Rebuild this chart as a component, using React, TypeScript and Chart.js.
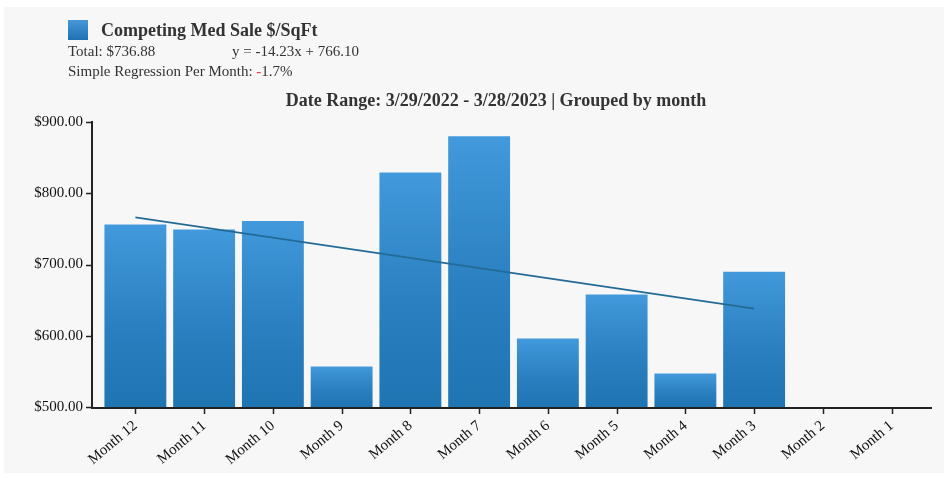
import React, { useEffect, useRef } from "react";
import { Chart, registerables } from "chart.js";

Chart.register(...registerables);

// Categories, oldest month first
const months = [
  "Month 12", "Month 11", "Month 10", "Month 9", "Month 8", "Month 7",
  "Month 6", "Month 5", "Month 4", "Month 3", "Month 2", "Month 1",
];

// Median competing sale price per square foot for each month
const medSalePerSqFt: (number | null)[] = [
  756, 749, 761, 557, 829, 880, 596, 658, 547, 690, null, null,
];

// Stated regression: y = slope * x + intercept (x = month index)
const regressionSlope = -14.23;
const regressionIntercept = 766.1;
const regressionLastIndex = 9;

const yTicks = [500, 600, 700, 800, 900];

const legendLabel = "Competing Med Sale $/SqFt";
const totalLabel = "Total: $736.88";
const equationLabel = "y = -14.23x + 766.10";
const regressionPrefix = "Simple Regression Per Month: ";
const regressionSign = "-";
const regressionPct = "1.7%";
const dateRangeTitle = "Date Range: 3/29/2022 - 3/28/2023 | Grouped by month";

const SERIF = '"Liberation Serif", "Times New Roman", serif';

const trendLine: (number | null)[] = months.map((_, i) =>
  i === 0 || i === regressionLastIndex ? regressionSlope * i + regressionIntercept : null
);

const decorPlugin = {
  id: "decor",
  beforeDraw(chart: any) {
    const ctx = chart.ctx;
    ctx.save();
    ctx.fillStyle = "#ffffff";
    ctx.fillRect(0, 0, chart.width, chart.height);
    ctx.fillStyle = "#f7f7f7";
    ctx.fillRect(4, 7, 940, 466);
    ctx.restore();
  },
  afterDraw(chart: any) {
    const ctx = chart.ctx;
    const { chartArea, scales } = chart;
    const y = scales.y;
    const x = scales.x;
    ctx.save();

    // Axis lines
    const axisX = chartArea.left - 9;
    const axisY = chartArea.bottom + 1;
    ctx.strokeStyle = "#222";
    ctx.lineWidth = 2;
    ctx.beginPath();
    ctx.moveTo(axisX, chartArea.top - 1);
    ctx.lineTo(axisX, axisY + 1);
    ctx.moveTo(axisX - 1, axisY);
    ctx.lineTo(chartArea.right + 6, axisY);
    ctx.stroke();

    // Tick marks
    ctx.lineWidth = 1.5;
    ctx.beginPath();
    yTicks.forEach((v) => {
      const py = Math.round(y.getPixelForValue(v)) + 0.5;
      ctx.moveTo(axisX - 6, py);
      ctx.lineTo(axisX, py);
    });
    months.forEach((_, i) => {
      const px = Math.round(x.getPixelForValue(i)) + 0.5;
      ctx.moveTo(px, axisY);
      ctx.lineTo(px, axisY + 6);
    });
    ctx.stroke();

    // Legend swatch
    const sw = ctx.createLinearGradient(0, 20, 0, 40);
    sw.addColorStop(0, "#4597d8");
    sw.addColorStop(1, "#1f72b2");
    ctx.fillStyle = sw;
    ctx.fillRect(68, 20, 20, 20);

    ctx.textBaseline = "middle";
    ctx.textAlign = "left";
    ctx.fillStyle = "#333";
    ctx.font = `bold 18px ${SERIF}`;
    ctx.fillText(legendLabel, 101, 31);

    ctx.font = `15px ${SERIF}`;
    ctx.fillText(totalLabel, 68, 52);
    ctx.fillText(equationLabel, 232, 52);
    ctx.fillText(regressionPrefix, 68, 72);
    const w1 = ctx.measureText(regressionPrefix).width;
    ctx.fillStyle = "#e8425a";
    ctx.font = `bold 15px ${SERIF}`;
    ctx.fillText(regressionSign, 68 + w1, 72);
    const w2 = ctx.measureText(regressionSign).width;
    ctx.fillStyle = "#333";
    ctx.font = `15px ${SERIF}`;
    ctx.fillText(regressionPct, 68 + w1 + w2, 72);

    // Chart title
    ctx.font = `bold 18px ${SERIF}`;
    ctx.textAlign = "center";
    ctx.fillText(dateRangeTitle, 496, 101);

    ctx.restore();
  },
};

function barGradient(context: any) {
  const chart = context.chart;
  const { chartArea, scales } = chart;
  if (!chartArea || context.type !== "data" || context.raw == null) return "#1f77b4";
  const top = scales.y.getPixelForValue(context.raw);
  const bottom = scales.y.getPixelForValue(scales.y.min);
  const g = chart.ctx.createLinearGradient(0, top, 0, bottom);
  g.addColorStop(0, "#4299db");
  g.addColorStop(0.55, "#2a80c0");
  g.addColorStop(1, "#1f74b2");
  return g;
}

export default function App() {
  const canvasRef = useRef<HTMLCanvasElement | null>(null);

  useEffect(() => {
    if (!canvasRef.current) return;
    const chart = new Chart(canvasRef.current, {
      type: "bar",
      data: {
        labels: months,
        datasets: [
          {
            type: "line",
            label: "Regression",
            data: trendLine,
            borderColor: "#236b96",
            borderWidth: 1.6,
            pointRadius: 0,
            spanGaps: true,
            fill: false,
            order: 0,
          } as any,
          {
            type: "bar",
            label: legendLabel,
            data: medSalePerSqFt,
            backgroundColor: barGradient,
            borderWidth: 0,
            barPercentage: 0.9,
            categoryPercentage: 1,
            order: 1,
          },
        ],
      },
      options: {
        responsive: false,
        animation: false,
        events: [],
        layout: { padding: { left: 0, right: 22, top: 122, bottom: 0 } },
        plugins: {
          legend: { display: false },
          title: { display: false },
          tooltip: { enabled: false },
        },
        scales: {
          x: {
            offset: true,
            grid: { display: false, drawTicks: false },
            border: { display: false },
            ticks: {
              autoSkip: false,
              minRotation: 40,
              maxRotation: 40,
              padding: 10,
              color: "#111",
              font: { family: SERIF, size: 15 },
            },
            afterFit: (scale: any) => {
              scale.height = 71;
            },
          },
          y: {
            min: 500,
            max: 900,
            grid: { display: false, drawTicks: false },
            border: { display: false },
            ticks: {
              stepSize: 100,
              padding: 18,
              color: "#111",
              font: { family: SERIF, size: 15 },
              callback: (v: any) => "$" + Number(v).toFixed(2),
            },
            afterFit: (scale: any) => {
              scale.width = 101;
            },
          },
        },
      },
      plugins: [decorPlugin],
    });
    return () => chart.destroy();
  }, []);

  return (
    <div style={{ position: "absolute", left: 0, top: 0, width: 948, height: 478, background: "#fff" }}>
      <canvas ref={canvasRef} width={948} height={478} style={{ display: "block" }} />
    </div>
  );
}
